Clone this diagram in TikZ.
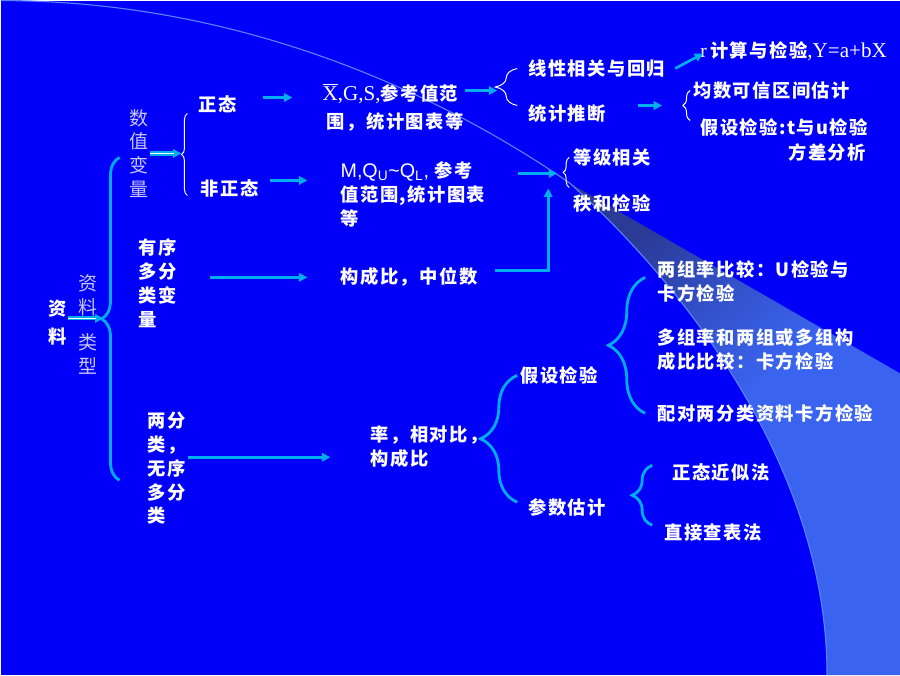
\documentclass[tikz,border=0pt]{standalone}
\usepackage{fontspec}
\usepackage{xcolor}
\usepackage{tikz}
\usetikzlibrary{arrows.meta,decorations.pathreplacing}
\setmainfont{Liberation Serif}
\newfontfamily\cjk[LetterSpace=8]{Noto Sans CJK SC}
\newfontfamily\cjklight{Noto Sans CJK SC}
\newfontfamily\tms{Liberation Serif}
\newfontfamily\arl{Liberation Sans}
\definecolor{bgblue}{RGB}{0,0,250}
\definecolor{wedgelight}{RGB}{58,100,240}
\definecolor{wedgemid}{RGB}{50,80,200}
\definecolor{wedgedark}{RGB}{42,58,150}
\definecolor{arcline}{RGB}{90,130,255}
\definecolor{paleword}{RGB}{200,200,250}
\pgfdeclareverticalshading{beam}{100bp}{color(0bp)=(wedgelight); color(52bp)=(wedgelight); color(64bp)=(wedgemid); color(75bp)=(wedgedark); color(100bp)=(wedgedark)}
\tikzset{
  word/.style={text=white, font=\cjk\bfseries\fontsize{13}{17}\selectfont, inner sep=0pt, anchor=west, align=left},
  pale/.style={text=paleword, font=\cjklight\fontsize{13.5}{17}\selectfont, inner sep=0pt, align=center},
  arr/.style={cyan, line width=1.9pt, -{Triangle[length=6pt,width=6pt]}},
  thickbrace/.style={cyan, line width=2pt, decorate, decoration={brace, amplitude=#1}},
  thinbrace/.style={white, line width=0.7pt, decorate, decoration={brace, amplitude=#1}},
}

\begin{document}
\begin{tikzpicture}[x=0.025cm, y=-0.025cm]
    % background and light beam
    \fill[bgblue] (0,0) rectangle (900,675);
    \shade[shading=beam, shading angle=40] (570,183) .. controls (700,300) and (827,480) .. (827,675) -- (900,675) -- (900,373) -- cycle;
    \draw[arcline, line width=0.8pt] (0,0) .. controls (250,0) and (450,100) .. (570,183) .. controls (700,300) and (827,480) .. (827,675);

    % left part
    \node[word, anchor=center, align=center] (zl) at (57,322) {资\\[2.8pt]料};
    \node[pale] (zllx) at (87,324) {资\\料\\[8pt]类\\型};
    \node[pale] (szbl) at (139,153) {数\\值\\变\\量};
    \node[word] (yx) at (138,283) {有序\\多分\\类变\\量};
    \node[word] (lfl) at (147,468) {两分\\类，\\无序\\多分\\类};

    % numeric data
    \node[word] (zt) at (198,104) {正态};
    \node[word] (fzt) at (200,188) {非正态};
    \node[word] (xgs) at (322,107) {{\tms\mdseries\fontsize{15}{17}\selectfont$\overline{\hbox{X}}$,G,S,}参考值范\\[2.8pt]\hspace{3pt}围，统计图表等};
    \node[word] (mq) at (340,194) {{\arl\mdseries\fontsize{14}{17}\selectfont M,Q\textsubscript{U}\textasciitilde Q\textsubscript{L},} 参考\\值范围,统计图表\\等};
    \node[word] (xxhg) at (528,68) {线性相关与回归};
    \node[word] (tjtd) at (528,113) {统计推断};
    \node[word] (rjs) at (700,51) {{\tms\mdseries\fontsize{14}{17}\selectfont r\,}计算与检验{\tms\mdseries\fontsize{15}{17}\selectfont,Y=a+bX}};
    \node[word] (jskx) at (693,90) {均数可信区间估计};
    \node[word] (jsjy) at (700,127) {假设检验:t与u检验};
    \node[word] (fcfx) at (788,152) {方差分析};
    \node[word] (djxg) at (573,157) {等级相关};
    \node[word] (zhjy) at (573,203) {秩和检验};

    % ordinal and categorical data
    \node[word] (gcb) at (340,277) {构成比，中位数};
    \node[word] (lxdb) at (370,446) {率，相对比，\\构成比};
    \node[word] (jsjy2) at (520,375) {假设检验};
    \node[word] (csgj) at (528,507) {参数估计};
    \node[word] (lzl) at (657,281) {两组率比较：U检验与\\卡方检验};
    \node[word] (dzl) at (657,349) {多组率和两组或多组构\\成比比较：卡方检验};
    \node[word] (pd) at (657,413) {配对两分类资料卡方检验};
    \node[word] (ztjs) at (672,472) {正态近似法};
    \node[word] (zjcb) at (664,532) {直接查表法};

    % braces
    \draw[thickbrace=0.45cm] (119,480) -- (119,157);
    \draw[thinbrace=0.15cm] (187,195) -- (187,113);
    \draw[thinbrace=0.55cm] (517,105) -- (517,68);
    \draw[thinbrace=0.18cm] (690,120) -- (690,90);
    \draw[thinbrace=0.15cm] (569,187) -- (569,157);
    \draw[thickbrace=0.92cm] (517,502) -- (517,375);
    \draw[thickbrace=0.92cm] (645,413) -- (645,277);
    \draw[thickbrace=0.5cm] (652,525) -- (652,465);

    % arrow ends
    \coordinate (zl-s) at (67,318);   \coordinate (zl-e) at (103,318);
    \coordinate (szbl-s) at (150,153); \coordinate (szbl-e) at (181,153);
    \coordinate (zt-s) at (263,97);   \coordinate (zt-e) at (292,97);
    \coordinate (fzt-s) at (270,180); \coordinate (fzt-e) at (307,180);
    \coordinate (xgs-s) at (465,90);  \coordinate (xgs-e) at (497,90);
    \coordinate (xxhg-s) at (675,68); \coordinate (xxhg-e) at (703,53);
    \coordinate (tjtd-s) at (638,105); \coordinate (tjtd-e) at (662,105);
    \coordinate (mq-s) at (518,173);  \coordinate (mq-e) at (557,173);
    \coordinate (gcb-s) at (495,270); \coordinate (gcb-e) at (548,188);
    \coordinate (yx-s) at (210,277);  \coordinate (yx-e) at (307,277);
    \coordinate (lfl-s) at (188,457); \coordinate (lfl-e) at (330,457);

    % arrows
    \draw[arr, line width=3pt] (zl-s) -- (zl-e);
    \draw[white, line width=1.2pt, shorten >=5pt] (zl-s) -- (zl-e);
    \draw[arr, line width=3pt] (szbl-s) -- (szbl-e);
    \draw[white, line width=1.2pt, shorten >=5pt] (szbl-s) -- (szbl-e);
    \draw[arr] (zt-s) -- (zt-e);
    \draw[arr] (fzt-s) -- (fzt-e);
    \draw[arr] (xgs-s) -- (xgs-e);
    \draw[arr] (xxhg-s) -- (xxhg-e);
    \draw[arr] (tjtd-s) -- (tjtd-e);
    \draw[arr] (mq-s) -- (mq-e);
    \draw[arr] (gcb-s) -| (gcb-e);
    \draw[arr] (yx-s) -- (yx-e);
    \draw[arr] (lfl-s) -- (lfl-e);
\end{tikzpicture}
\end{document}
